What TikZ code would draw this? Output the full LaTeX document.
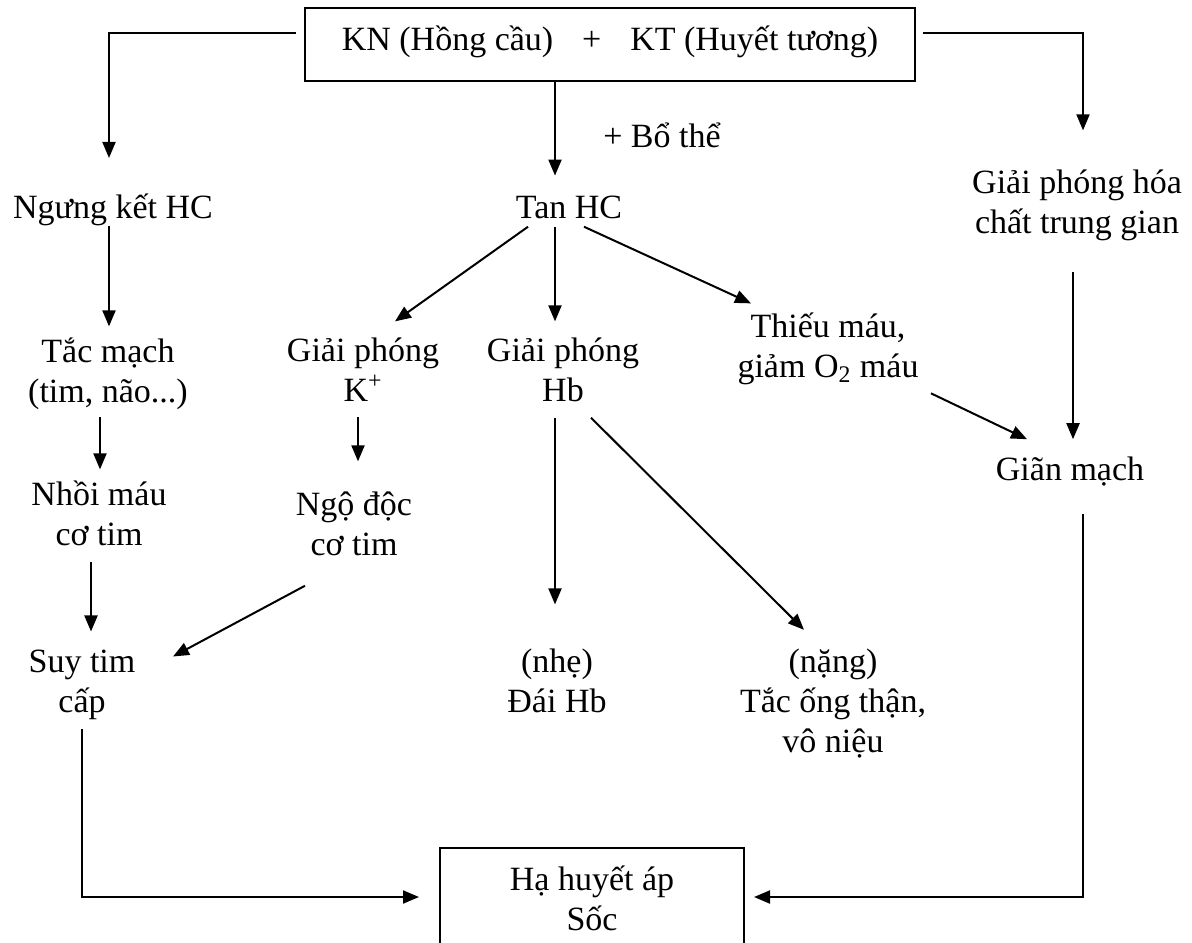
\documentclass[tikz,border=0pt]{standalone}
\usepackage{fontspec}
\setmainfont{Liberation Serif}
\usetikzlibrary{arrows.meta}
\begin{document}
\begin{tikzpicture}[
		x=0.5pt,y=-0.5pt,
		every node/.style={font=\fontsize{17pt}{19.8pt}\selectfont},
		txt/.style={align=center,inner sep=0pt,anchor=base},
		box/.style={draw,line width=1pt,align=center,inner sep=0pt,anchor=base},
		arr/.style={line width=1pt,-{Triangle[length=8pt,width=6.5pt]}}
		]
		\useasboundingbox (0,0) rectangle (1192,942);
		% nodes are placed at the baseline of their last line
		\node[box,minimum width=305pt,text height=21pt,text depth=15.5pt] (KN) at (610,50) {KN (Hồng cầu)\hspace{0.85em}+\hspace{0.85em}KT (Huyết tương)};
		\node[txt] (BoThe) at (662,147) {+ Bổ thể};
		\node[txt] (NgungKet) at (113,218) {Ngưng kết HC};
		\node[txt] (TanHC) at (569,218) {Tan HC};
		\node[txt] (HoaChat) at (1077,233) {Giải phóng hóa\\chất trung gian};
		\node[txt] (TacMach) at (108,402) {Tắc mạch\\(tim, não...)};
		\node[txt] (GPK) at (363,401) {Giải phóng\\K\textsuperscript{+}};
		\node[txt] (GPHb) at (563,401) {Giải phóng\\Hb};
		\node[txt] (ThieuMau) at (828,377) {Thiếu máu,\\giảm O\textsubscript{2} máu};
		\node[txt] (GianMach) at (1070,480) {Giãn mạch};
		\node[txt] (NhoiMau) at (99,545) {Nhồi máu\\cơ tim};
		\node[txt] (NgoDoc) at (354,555) {Ngộ độc\\cơ tim};
		\node[txt] (SuyTim) at (82,712) {Suy tim\\cấp};
		\node[txt] (DaiHb) at (557,712) {(nhẹ)\\Đái Hb};
		\node[txt] (TacOng) at (833,752) {(nặng)\\Tắc ống thận,\\vô niệu};
		\node[box,minimum width=152pt,text height=41pt,text depth=8pt] (Soc) at (592,930) {Hạ huyết áp\\Sốc};
		% tu phuc hop KN-KT
		\draw[arr,shorten <=4pt,shorten >=17.5pt] ([yshift=6pt]KN.west) -| ([xshift=-2pt]NgungKet.north);
		\draw[arr,shorten <=3.5pt,shorten >=19.5pt] ([yshift=6pt]KN.east) -| ([xshift=3pt]HoaChat.north);
		\draw[arr,shorten >=9.75pt] ([xshift=-27.5pt]KN.south) -- ([xshift=-7pt]TanHC.north);
		% nhanh trai
		\draw[arr,shorten >=5.5pt] ([xshift=-2pt]NgungKet.south) -- ([xshift=0.5pt]TacMach.north);
		\draw[arr] ([shift={(-4pt,-3.8pt)}]TacMach.south) -- ([shift={(0.5pt,5.5pt)}]NhoiMau.north);
		\draw[arr] ([shift={(-4pt,-8pt)}]NhoiMau.south) -- ([shift={(4.5pt,9pt)}]SuyTim.north);
		% tan HC
		\draw[arr] ([shift={(-20.5pt,-4pt)}]TanHC.south) -- ([shift={(16pt,8pt)}]GPK.north);
		\draw[arr] ([shift={(-7pt,-4pt)}]TanHC.south) -- ([shift={(-4pt,8pt)}]GPHb.north);
		\draw[arr] ([shift={(7.5pt,-4pt)}]TanHC.south) -- ([shift={(-38.5pt,4.5pt)}]ThieuMau.north);
		\draw[arr] ([shift={(-2.5pt,-8pt)}]GPK.south) -- ([shift={(2pt,15pt)}]NgoDoc.north);
		\draw[arr] ([shift={(-24.5pt,-15pt)}]NgoDoc.south) -- ([shift={(45.5pt,-3.5pt)}]SuyTim.north);
		\draw[arr] ([shift={(-4pt,-8pt)}]GPHb.south) -- ([shift={(-1pt,22pt)}]DaiHb.north);
		\draw[arr] ([shift={(14pt,-8pt)}]GPHb.south) -- ([shift={(-14.5pt,9.5pt)}]TacOng.north);
		% nhanh phai
		\draw[arr] ([shift={(-2pt,-15.8pt)}]HoaChat.south) -- ([shift={(1.5pt,8.4pt)}]GianMach.north);
		\draw[arr] ([shift={(51.5pt,-4.3pt)}]ThieuMau.south) -- ([shift={(-21.5pt,8.4pt)}]GianMach.north);
		% ve soc
		\draw[arr] ([yshift=-4.8pt]SuyTim.south) |- ([xshift=-10pt]Soc.west);
		\draw[arr] ([shift={(6.5pt,-14pt)}]GianMach.south) |- ([xshift=4.5pt]Soc.east);
	\end{tikzpicture}
\end{document}
